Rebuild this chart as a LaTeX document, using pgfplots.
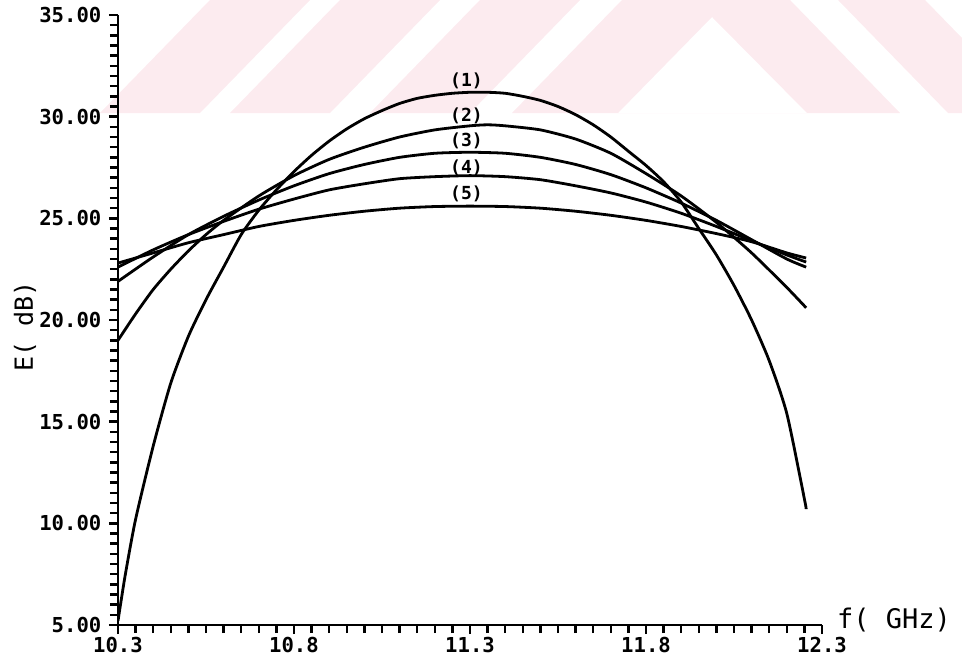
\documentclass[border=0pt]{standalone}
\usepackage{fontspec}
\usepackage{pgfplots}
\pgfplotsset{compat=1.18}
\newfontfamily\plotfont{DejaVu Sans Mono}
\definecolor{wmpink}{RGB}{252,235,239}

% E(dB) versus frequency for the five cases (1)-(5)
\pgfplotstableread{
x y
10.30 5.2
10.32 7.4
10.35 10.2
10.40 13.8
10.45 16.9
10.50 19.2
10.55 21.0
10.60 22.6
10.65 24.2
10.70 25.4
10.75 26.4
10.80 27.3
10.85 28.1
10.90 28.8
10.95 29.4
11.00 29.9
11.05 30.3
11.10 30.65
11.15 30.9
11.20 31.05
11.25 31.15
11.30 31.2
11.35 31.2
11.40 31.15
11.45 31.0
11.50 30.8
11.55 30.5
11.60 30.1
11.65 29.6
11.70 29.0
11.75 28.3
11.80 27.6
11.85 26.8
11.90 25.8
11.95 24.5
12.00 23.2
12.05 21.7
12.10 20.0
12.15 18.0
12.20 15.4
12.25 11.2
12.255 10.7
}\curveA
\pgfplotstableread{
x y
10.30 19.0
10.35 20.3
10.40 21.5
10.45 22.5
10.50 23.4
10.55 24.2
10.60 24.9
10.70 26.1
10.80 27.1
10.90 27.9
11.00 28.5
11.10 29.0
11.20 29.35
11.30 29.55
11.35 29.6
11.40 29.55
11.50 29.35
11.60 28.9
11.70 28.2
11.80 27.2
11.90 26.1
12.00 24.8
12.10 23.3
12.20 21.6
12.255 20.6
}\curveB
\pgfplotstableread{
x y
10.30 21.9
10.40 23.1
10.50 24.2
10.60 25.1
10.70 25.9
10.80 26.6
10.90 27.2
11.00 27.65
11.10 28.0
11.20 28.2
11.30 28.25
11.40 28.2
11.50 28.0
11.60 27.65
11.70 27.15
11.80 26.5
11.90 25.75
12.00 24.9
12.10 23.95
12.20 23.0
12.255 22.6
}\curveC
\pgfplotstableread{
x y
10.30 22.6
10.40 23.45
10.50 24.2
10.60 24.85
10.70 25.45
10.80 25.95
10.90 26.4
11.00 26.7
11.10 26.95
11.20 27.05
11.30 27.1
11.40 27.05
11.50 26.9
11.60 26.6
11.70 26.25
11.80 25.8
11.90 25.25
12.00 24.6
12.10 23.9
12.20 23.2
12.255 22.85
}\curveD
\pgfplotstableread{
x y
10.30 22.8
10.40 23.3
10.50 23.8
10.60 24.2
10.70 24.6
10.80 24.9
10.90 25.15
11.00 25.35
11.10 25.5
11.20 25.58
11.30 25.6
11.40 25.58
11.50 25.5
11.60 25.35
11.70 25.15
11.80 24.9
11.90 24.6
12.00 24.25
12.10 23.85
12.20 23.3
12.255 23.05
}\curveE

\begin{document}
\begin{tikzpicture}
\useasboundingbox (-59pt,-18pt) rectangle (422pt,312.5pt);
% light background stripes along the top of the sheet
\begin{scope}
\clip (-59pt,-18pt) rectangle (422pt,312.5pt);
\fill[wmpink] (-9pt,256pt) -- (41pt,256pt) -- (96pt,312.5pt) -- (46pt,312.5pt) -- cycle;
\fill[wmpink] (56pt,256pt) -- (106pt,256pt) -- (161pt,312.5pt) -- (111pt,312.5pt) -- cycle;
\fill[wmpink] (126pt,256pt) -- (176pt,256pt) -- (231pt,312.5pt) -- (181pt,312.5pt) -- cycle;
\fill[wmpink, even odd rule]
  (197pt,256pt) -- (252pt,312.5pt) -- (336pt,312.5pt) -- (391pt,256pt) -- cycle
  (250pt,256pt) -- (297pt,304pt) -- (344.5pt,256pt) -- cycle;
\fill[wmpink] (360pt,312.5pt) -- (403.5pt,312.5pt) -- (458.5pt,256pt) -- (415pt,256pt) -- cycle;
\end{scope}
\begin{axis}[
  at={(0,0)}, anchor=south west,
  scale only axis, width=352pt, height=305pt,
  xmin=10.3, xmax=12.3, ymin=5, ymax=35,
  axis lines=left,
  axis line style={-, line width=1.4pt},
  xtick={10.3,10.8,11.3,11.8,12.3},
  xticklabels={10.3,10.8,11.3,11.8,12.3},
  ytick={5,10,15,20,25,30,35},
  yticklabels={5.00,10.00,15.00,20.00,25.00,30.00,35.00},
  minor x tick num=9, minor y tick num=9,
  tick align=outside,
  major tick length=4.5pt, minor tick length=4pt,
  tick style={line width=1.2pt, black},
  ticklabel style={font=\plotfont\bfseries\fontsize{10.3}{12}\selectfont},
  yticklabel style={xshift=-0.3pt},
  xticklabel style={yshift=2pt},
  xlabel={f( GHz)},
  xlabel style={font=\plotfont\fontsize{13.5}{15}\selectfont,
    at={(rel axis cs:1,0)}, anchor=base west, xshift=4pt, yshift=-1.5pt},
  ylabel={E( dB)},
  ylabel style={font=\plotfont\fontsize{12.5}{14}\selectfont,
    at={(rel axis cs:0,0.49)}, anchor=center, yshift=46.5pt},
  every axis plot post/.append style={black, line width=1.4pt, smooth, tension=0.4, mark=none},
]
\addplot table[x=x,y=y] {\curveA};
\addplot table[x=x,y=y] {\curveB};
\addplot table[x=x,y=y] {\curveC};
\addplot table[x=x,y=y] {\curveD};
\addplot table[x=x,y=y] {\curveE};
\begin{scope}[every node/.style={font=\plotfont\bfseries\fontsize{9}{10}\selectfont, inner sep=0pt}]
\node at (axis cs:11.29,31.75) {(1)};
\node at (axis cs:11.29,30.04) {(2)};
\node at (axis cs:11.29,28.81) {(3)};
\node at (axis cs:11.29,27.48) {(4)};
\node at (axis cs:11.29,26.2) {(5)};
\end{scope}
\end{axis}
\end{tikzpicture}
\end{document}
